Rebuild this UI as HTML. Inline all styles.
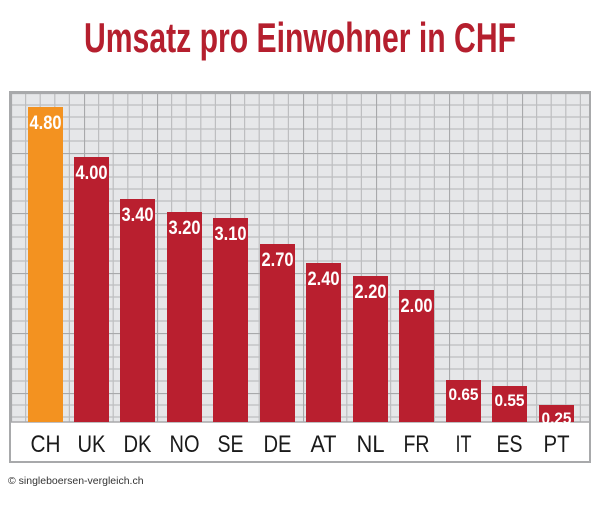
<!DOCTYPE html>
<html><head><style>
body{margin:0;background:#fff;width:600px;height:503px;overflow:hidden;font-family:"Liberation Sans",sans-serif}
</style></head><body>
<svg width="600" height="503" xmlns="http://www.w3.org/2000/svg" font-family="Liberation Sans, sans-serif">
<defs>
<pattern id="g" x="11" y="93" width="73" height="60" patternUnits="userSpaceOnUse">
<rect width="73" height="60" fill="#e6e7e9"/>
<g stroke="#bdbec0" stroke-width="1.2">
<line x1="14.6" y1="0" x2="14.6" y2="60"/><line x1="29.2" y1="0" x2="29.2" y2="60"/><line x1="43.8" y1="0" x2="43.8" y2="60"/><line x1="58.4" y1="0" x2="58.4" y2="60"/>
<line x1="0" y1="12" x2="73" y2="12"/><line x1="0" y1="24" x2="73" y2="24"/><line x1="0" y1="36" x2="73" y2="36"/><line x1="0" y1="48" x2="73" y2="48"/>
</g>
<g stroke="#a8a9ab" stroke-width="2.2"><line x1="0" y1="0" x2="0" y2="60"/><line x1="0" y1="0" x2="73" y2="0"/></g>
</pattern>
</defs>
<text x="300" y="52" text-anchor="middle" fill="#b51f2e" font-size="42" font-weight="bold" textLength="432" lengthAdjust="spacingAndGlyphs">Umsatz pro Einwohner in CHF</text>
<rect x="10" y="92" width="580" height="370" fill="#fff" stroke="#a8a9ab" stroke-width="2"/>
<rect x="11" y="93" width="578" height="329" fill="url(#g)"/>
<line x1="11" y1="422" x2="589" y2="422" stroke="#a8a9ab" stroke-width="1.5"/>
<g fill="#b91f2f">
<rect x="28" y="107" width="35" height="315" fill="#f39220"/>
<rect x="74" y="157" width="35" height="265"/>
<rect x="120" y="199" width="35" height="223"/>
<rect x="167" y="212" width="35" height="210"/>
<rect x="213" y="218" width="35" height="204"/>
<rect x="260" y="244" width="35" height="178"/>
<rect x="306" y="263" width="35" height="159"/>
<rect x="353" y="276" width="35" height="146"/>
<rect x="399" y="290" width="35" height="132"/>
<rect x="446" y="380" width="35" height="42"/>
<rect x="492" y="386" width="35" height="36"/>
<rect x="539" y="405" width="35" height="17"/>
</g>
<g fill="#fff" font-weight="bold" font-size="19" text-anchor="middle">
<text x="45.5" y="129" textLength="32" lengthAdjust="spacingAndGlyphs">4.80</text>
<text x="91.5" y="179" textLength="32" lengthAdjust="spacingAndGlyphs">4.00</text>
<text x="137.5" y="221" textLength="32" lengthAdjust="spacingAndGlyphs">3.40</text>
<text x="184.5" y="234" textLength="32" lengthAdjust="spacingAndGlyphs">3.20</text>
<text x="230.5" y="240" textLength="32" lengthAdjust="spacingAndGlyphs">3.10</text>
<text x="277.5" y="266" textLength="32" lengthAdjust="spacingAndGlyphs">2.70</text>
<text x="323.5" y="285" textLength="32" lengthAdjust="spacingAndGlyphs">2.40</text>
<text x="370.5" y="298" textLength="32" lengthAdjust="spacingAndGlyphs">2.20</text>
<text x="416.5" y="312" textLength="32" lengthAdjust="spacingAndGlyphs">2.00</text>
<text x="463.5" y="400" font-size="17" textLength="30" lengthAdjust="spacingAndGlyphs">0.65</text>
<text x="509.5" y="406" font-size="17" textLength="30" lengthAdjust="spacingAndGlyphs">0.55</text>
<text x="556.5" y="424" font-size="17" textLength="30" lengthAdjust="spacingAndGlyphs">0.25</text>
</g>
<g fill="#1a1a1a" font-size="24" text-anchor="middle">
<text x="45.5" y="452" textLength="30" lengthAdjust="spacingAndGlyphs">CH</text>
<text x="91.5" y="452" textLength="28" lengthAdjust="spacingAndGlyphs">UK</text>
<text x="137.5" y="452" textLength="28" lengthAdjust="spacingAndGlyphs">DK</text>
<text x="184.5" y="452" textLength="30" lengthAdjust="spacingAndGlyphs">NO</text>
<text x="230.5" y="452" textLength="26" lengthAdjust="spacingAndGlyphs">SE</text>
<text x="277.5" y="452" textLength="28" lengthAdjust="spacingAndGlyphs">DE</text>
<text x="323.5" y="452" textLength="26" lengthAdjust="spacingAndGlyphs">AT</text>
<text x="370.5" y="452" textLength="28" lengthAdjust="spacingAndGlyphs">NL</text>
<text x="416.5" y="452" textLength="26" lengthAdjust="spacingAndGlyphs">FR</text>
<text x="463.5" y="452" textLength="16" lengthAdjust="spacingAndGlyphs">IT</text>
<text x="509.5" y="452" textLength="26" lengthAdjust="spacingAndGlyphs">ES</text>
<text x="556.5" y="452" textLength="26" lengthAdjust="spacingAndGlyphs">PT</text>
</g>
<text x="8" y="484" font-size="10.5" fill="#333">© singleboersen-vergleich.ch</text>
</svg>
</body></html>
